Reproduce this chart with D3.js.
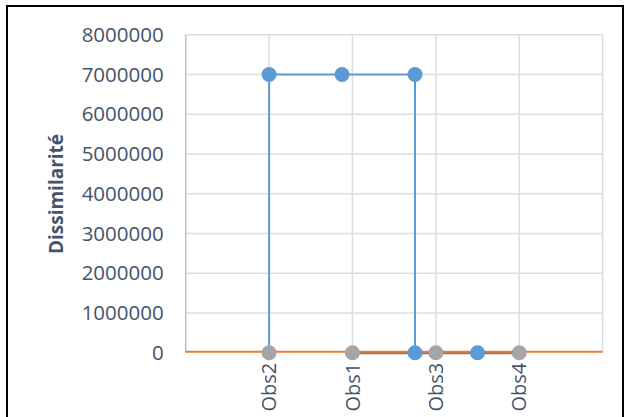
<!DOCTYPE html>
<html>
<head>
<meta charset="utf-8">
<script src="https://cdn.jsdelivr.net/npm/d3@7"></script>
<style>
  html, body { margin: 0; padding: 0; background: #fff; }
  svg { display: block; }
  text { font-family: "Open Sans", "Noto Sans", sans-serif; fill: #44546A; }
</style>
</head>
<body>
<svg id="chart" width="625" height="417"></svg>
<script>
// Leaves of the dendrogram, in display order along the x axis
const leafNames = ["Obs2", "Obs1", "Obs3", "Obs4"];
const leafPos = [1, 2, 3, 4];
const leafHeight = [0, 0, 0, 0];

// Upper link (Obs2 joined with the rest) : x positions and heights
const linkX = [1, 1, 1.875, 2.75, 2.75];
const linkY = [0, 7000000, 7000000, 7000000, 0];
// Points marked on the upper link
const linkMarkX = [1, 1.875, 2.75, 2.75];
const linkMarkY = [7000000, 7000000, 7000000, 0];

// Lower links (Obs1 with Obs3/Obs4, then Obs3 with Obs4) merged near zero
const lowX = [2, 2.75, 3, 3.5, 4];
const lowY = [0, 0, 0, 0, 0];
const lowMarkX = [3.5];
const lowMarkY = [0];

// Horizontal cut level
const cutX = [0, 5];
const cutY = [0, 0];

// Axes
const yTicks = [0, 1000000, 2000000, 3000000, 4000000, 5000000, 6000000, 7000000, 8000000];
const xGrid = [1, 2, 3, 4, 5];

const svg = d3.select("#chart");
const W = 625, H = 417;
const m = { left: 185.7, right: 22.4, top: 34.7, bottom: 64.3 };

const x = d3.scaleLinear().domain([0, 5]).range([m.left, W - m.right]);
const y = d3.scaleLinear().domain([0, 8000000]).range([H - m.bottom, m.top]);

// Outer frame
svg.append("rect")
  .attr("x", 7).attr("y", 6).attr("width", 616).attr("height", 420)
  .attr("fill", "none").attr("stroke", "#000").attr("stroke-width", 2);

// Horizontal gridlines
svg.append("g").selectAll("line").data(yTicks.filter(d => d > 0)).join("line")
  .attr("x1", x(0)).attr("x2", x(5))
  .attr("y1", d => y(d)).attr("y2", d => y(d))
  .attr("stroke", "#D9DDE5").attr("stroke-width", 1.5);

// Vertical gridlines
svg.append("g").selectAll("line").data(xGrid).join("line")
  .attr("x1", d => x(d)).attr("x2", d => x(d))
  .attr("y1", y(0)).attr("y2", y(8000000))
  .attr("stroke", "#D9DDE5").attr("stroke-width", 1.5);

// Left axis line
svg.append("line")
  .attr("x1", x(0)).attr("x2", x(0))
  .attr("y1", y(0)).attr("y2", y(8000000))
  .attr("stroke", "#B4C0D3").attr("stroke-width", 1.5);

// Y tick labels
const yAxis = d3.axisLeft(y).tickValues(yTicks).tickFormat(d3.format("d")).tickSize(0).tickPadding(22);
const gy = svg.append("g").attr("transform", `translate(${x(0)},0)`).call(yAxis);
gy.select(".domain").remove();
gy.selectAll("text").attr("font-size", 20.5).attr("fill", "#44546A")
  .style("font-family", '"Open Sans", "Noto Sans", sans-serif');

// Y axis title
svg.append("text")
  .attr("transform", `translate(63,194) rotate(-90)`)
  .attr("text-anchor", "middle")
  .attr("font-size", 19).attr("font-weight", "bold")
  .text("Dissimilarité");

// Leaf labels
svg.append("g").selectAll("text").data(leafNames).join("text")
  .attr("transform", (d, i) => `translate(${x(leafPos[i])},${y(0) + 10}) rotate(-90)`)
  .attr("text-anchor", "end")
  .attr("dy", "0.36em")
  .attr("font-size", 20)
  .text(d => d);

const line = d3.line().x(d => x(d[0])).y(d => y(d[1]));

// Lower links
svg.append("path")
  .datum(d3.zip(lowX, lowY))
  .attr("d", line)
  .attr("fill", "none").attr("stroke", "#6F7D8E").attr("stroke-width", 3);

// Cut level line
svg.append("path")
  .datum(d3.zip(cutX, cutY))
  .attr("d", line)
  .attr("transform", "translate(0,-1)")
  .attr("fill", "none").attr("stroke", "#ED7D31").attr("stroke-width", 2);

// Upper link
svg.append("path")
  .datum(d3.zip(linkX, linkY))
  .attr("d", line)
  .attr("fill", "none").attr("stroke", "#5B9BD5").attr("stroke-width", 2);

// Link markers
svg.append("g").selectAll("circle")
  .data(d3.zip(linkMarkX.concat(lowMarkX), linkMarkY.concat(lowMarkY))).join("circle")
  .attr("cx", d => x(d[0])).attr("cy", d => y(d[1])).attr("r", 7.5)
  .attr("fill", "#5B9BD5");

// Leaf markers
svg.append("g").selectAll("circle")
  .data(d3.zip(leafPos, leafHeight)).join("circle")
  .attr("cx", d => x(d[0])).attr("cy", d => y(d[1])).attr("r", 7.5)
  .attr("fill", "#A5A5A5");
</script>
</body>
</html>
